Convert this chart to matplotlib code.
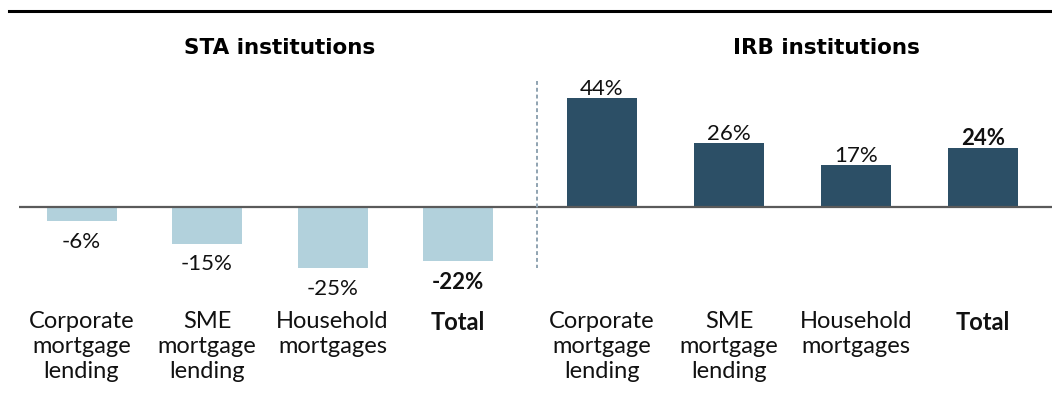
import matplotlib
matplotlib.use("Agg")
import matplotlib.pyplot as plt
from matplotlib.lines import Line2D

# Change by exposure class, in percent
categories = ["Corporate\nmortgage\nlending", "SME\nmortgage\nlending",
              "Household\nmortgages", "Total"]
sta_values = [-6, -15, -25, -22]
irb_values = [44, 26, 17, 24]
group_titles = ["STA institutions", "IRB institutions"]

LIGHT = "#B2D1DC"
DARK = "#2C4F66"
BASE = "#5A5A5A"
LABEL_FONT = ["Lato", "DejaVu Sans"]
TITLE_FONT = ["DejaVu Sans"]

W, H, DPI = 1052, 410, 100
fig = plt.figure(figsize=(W / DPI, H / DPI), dpi=DPI)

px_per_pct = 2.465
base_y = 207.7
ax_top, ax_bot = 12, 300
ylim = (-(ax_bot - base_y) / px_per_pct, (base_y - ax_top) / px_per_pct)


def make_axes(x0, x1, first_center, spacing):
    ax = fig.add_axes([x0 / W, 1 - ax_bot / H, (x1 - x0) / W, (ax_bot - ax_top) / H])
    ax.set_xlim(-(first_center - x0) / spacing, 3 + (x1 - (first_center + 3 * spacing)) / spacing)
    ax.set_ylim(*ylim)
    for s in ax.spines.values():
        s.set_visible(False)
    ax.set_yticks([])
    ax.patch.set_alpha(0)
    return ax


panels = [
    (make_axes(19, 537, 81.5, 125.5), sta_values, LIGHT, 70 / 125.5),
    (make_axes(537, 1052, 602, 127.0), irb_values, DARK, 70 / 127.0),
]

for ax, values, color, width in panels:
    x = list(range(len(categories)))
    bars = ax.bar(x, values, width=width, color=color, zorder=2)
    ax.axhline(0, color=BASE, lw=1.6, zorder=3)
    for i, (bar, v) in enumerate(zip(bars, values)):
        weight = "bold" if categories[i] == "Total" else "normal"
        if v >= 0:
            ax.annotate(f"{v}%", (bar.get_x() + bar.get_width() / 2, v),
                        xytext=(0, 0), textcoords="offset points",
                        ha="center", va="bottom", fontsize=16,
                        fontweight=weight, family=LABEL_FONT, color="#111111")
        else:
            ax.annotate(f"{v}%", (bar.get_x() + bar.get_width() / 2, v),
                        xytext=(0, -7), textcoords="offset points",
                        ha="center", va="top", fontsize=16,
                        fontweight=weight, family=LABEL_FONT, color="#111111")
    ax.set_xticks(x)
    ax.set_xticklabels(categories, family=LABEL_FONT, fontsize=17,
                       linespacing=1.22, color="#111111")
    for lbl in ax.get_xticklabels():
        if lbl.get_text() == "Total":
            lbl.set_fontweight("bold")
    ax.tick_params(axis="x", length=0, pad=8)

# Top rule and group separator
fig.add_artist(Line2D([9 / W, 1.0], [1 - 12 / H, 1 - 12 / H], color="black", lw=2.2))
fig.add_artist(Line2D([537 / W, 537 / W], [1 - 82 / H, 1 - 269 / H],
                      color="#8FA3B1", lw=1.4, linestyle=(0, (2, 1.5))))

# Group titles
fig.text(280 / W, 1 - 48 / H, group_titles[0], ha="center", va="center",
         fontsize=15.5, fontweight="bold", family=TITLE_FONT)
fig.text(826 / W, 1 - 48 / H, group_titles[1], ha="center", va="center",
         fontsize=15.5, fontweight="bold", family=TITLE_FONT)

fig.savefig("out.png", dpi=DPI, facecolor="white")
